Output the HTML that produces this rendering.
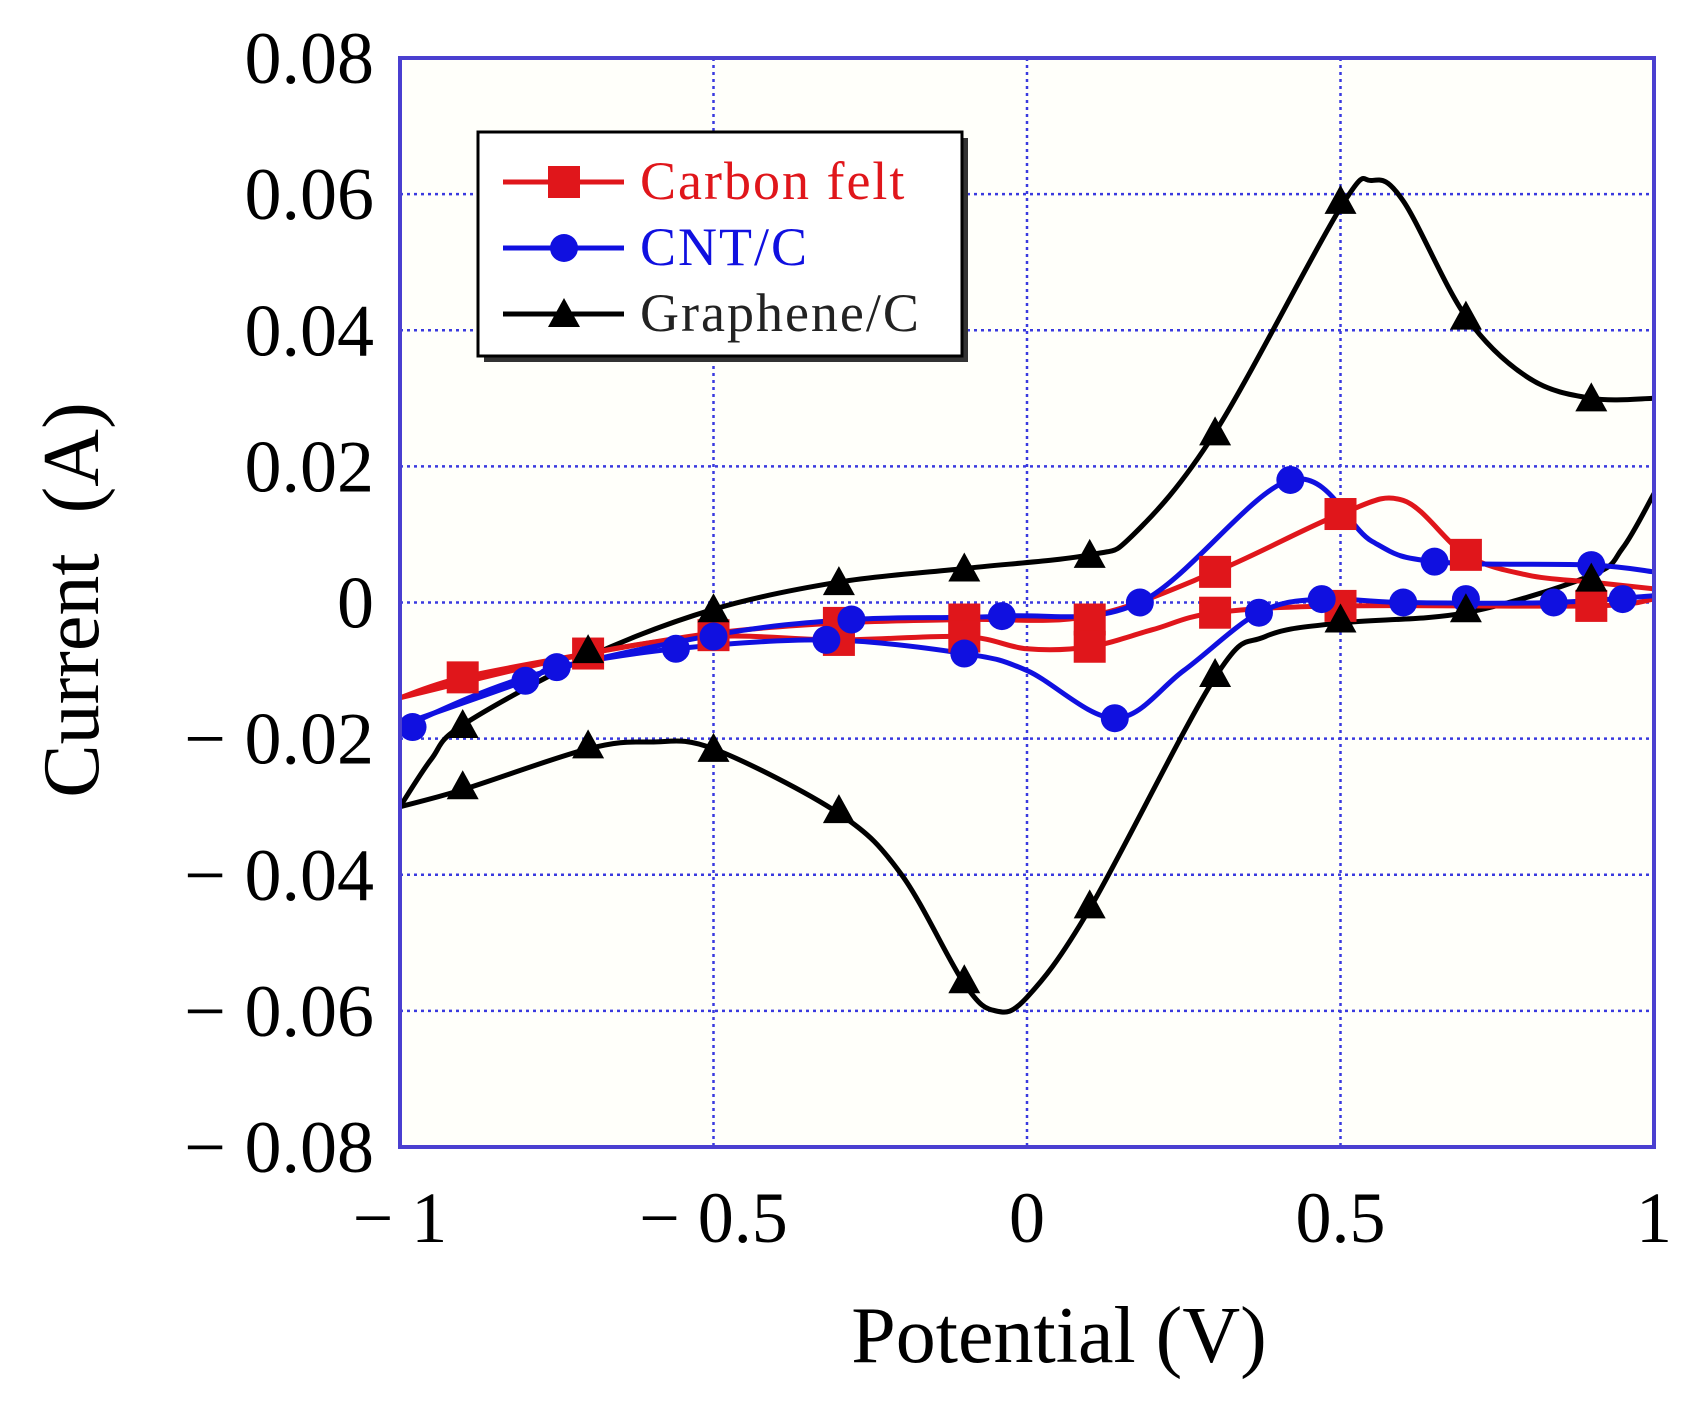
<!DOCTYPE html>
<html><head><meta charset="utf-8"><style>
body{margin:0;background:#fff;}
svg{display:block;font-family:"Liberation Serif",serif;}
</style></head><body>
<svg id="s" width="1694" height="1407" xmlns="http://www.w3.org/2000/svg"></svg>
<script>
const s=document.getElementById('s');
const L=400,R=1654,T=58,B=1147;
const X=v=>L+(v+1)*(R-L)/2, Y=c=>T+(0.08-c)*(B-T)/0.16;
let h='';
h+=`<rect x="${L}" y="${T}" width="${R-L}" height="${B-T}" fill="#fffffa"/>`;
for(let v=-0.5;v<1;v+=0.5){h+=`<line x1="${X(v)}" y1="${T}" x2="${X(v)}" y2="${B}" stroke="#3a3adf" stroke-width="2.5" stroke-dasharray="3,4"/>`;}
for(let i=1;i<8;i++){let c=0.08-i*0.02;h+=`<line x1="${L}" y1="${Y(c)}" x2="${R}" y2="${Y(c)}" stroke="#3a3adf" stroke-width="2.5" stroke-dasharray="3,4"/>`;}
function path(pts,col){let p=pts.map(q=>[X(q[0]),Y(q[1])]);let d=`M${p[0][0]},${p[0][1]}`;
for(let i=0;i<p.length-1;i++){let p0=p[Math.max(0,i-1)],p1=p[i],p2=p[i+1],p3=p[Math.min(p.length-1,i+2)];
d+=` C${p1[0]+(p2[0]-p0[0])/6},${p1[1]+(p2[1]-p0[1])/6} ${p2[0]-(p3[0]-p1[0])/6},${p2[1]-(p3[1]-p1[1])/6} ${p2[0]},${p2[1]}`;}
return `<path d="${d}" fill="none" stroke="${col}" stroke-width="5"/>`;}
function sq(x,y){return `<rect x="${x-16}" y="${y-16}" width="32" height="32" fill="#e0161b"/>`}
function ci(x,y){return `<circle cx="${x}" cy="${y}" r="14" fill="#1010e0"/>`}
function tr(x,y){return `<polygon points="${x},${y-16} ${x-16},${y+13} ${x+16},${y+13}" fill="#000"/>`}
const gU=[[-1,-0.030],[-0.95,-0.023],[-0.9,-0.018],[-0.7,-0.008],[-0.5,-0.001],[-0.3,0.003],[-0.1,0.005],[0.1,0.007],[0.17,0.010],[0.3,0.025],[0.5,0.058],[0.55,0.062],[0.6,0.059],[0.7,0.042],[0.8,0.033],[0.9,0.030],[1,0.030]];
const gD=[[1,0.016],[0.95,0.008],[0.9,0.004],[0.7,-0.0015],[0.5,-0.003],[0.38,-0.005],[0.3,-0.011],[0.1,-0.045],[0,-0.058],[-0.05,-0.060],[-0.1,-0.056],[-0.2,-0.040],[-0.3,-0.031],[-0.5,-0.0215],[-0.6,-0.0205],[-0.7,-0.0215],[-0.9,-0.0275],[-1,-0.030]];
const bU=[[-1,-0.0185],[-0.8,-0.011],[-0.5,-0.0048],[-0.28,-0.0025],[-0.04,-0.002],[0.18,0],[0.42,0.018],[0.55,0.009],[0.65,0.006],[0.9,0.0055],[1,0.0045]];
const bD=[[1,0.001],[0.84,0],[0.6,0],[0.47,0.0005],[0.37,-0.0015],[0.25,-0.01],[0.14,-0.017],[0,-0.010],[-0.1,-0.0075],[-0.32,-0.0055],[-0.56,-0.0068],[-0.75,-0.0095],[-0.8,-0.0115],[-1,-0.018]];
const rU=[[-1,-0.014],[-0.9,-0.011],[-0.7,-0.0075],[-0.5,-0.0045],[-0.3,-0.003],[-0.1,-0.0025],[0.1,-0.002],[0.3,0.0045],[0.5,0.013],[0.6,0.015],[0.7,0.007],[0.8,0.004],[0.9,0.003],[1,0.002]];
const rD=[[1,0.0005],[0.9,-0.0005],[0.5,-0.0005],[0.3,-0.0015],[0.2,-0.004],[0.1,-0.0065],[0,-0.0068],[-0.1,-0.005],[-0.3,-0.0055],[-0.5,-0.005],[-0.7,-0.0075],[-1,-0.014]];
h+=path(gU,'#000')+path(gD,'#000')+path(rU,'#e0161b')+path(rD,'#e0161b')+path(bU,'#1010e0')+path(bD,'#1010e0');
[[-0.9,-0.011],[-0.7,-0.0075],[-0.5,-0.0048],[-0.3,-0.0055],[-0.3,-0.003],[-0.1,-0.0025],[-0.1,-0.005],[0.1,-0.0025],[0.1,-0.0065],[0.3,0.0045],[0.3,-0.0015],[0.5,0.013],[0.5,-0.0005],[0.7,0.007],[0.9,-0.0005]].forEach(q=>h+=sq(X(q[0]),Y(q[1])));
[[-0.98,-0.0183],[-0.8,-0.0115],[-0.75,-0.0095],[-0.56,-0.0068],[-0.5,-0.005],[-0.32,-0.0055],[-0.28,-0.0025],[-0.1,-0.0075],[-0.04,-0.002],[0.14,-0.017],[0.18,0],[0.37,-0.0015],[0.42,0.018],[0.47,0.0005],[0.6,0],[0.65,0.006],[0.7,0.0005],[0.84,0],[0.9,0.0055],[0.95,0.0005]].forEach(q=>h+=ci(X(q[0]),Y(q[1])));
[[-0.9,-0.018],[-0.7,-0.007],[-0.5,-0.001],[-0.3,0.003],[-0.1,0.005],[0.1,0.007],[0.3,0.025],[0.5,0.059],[0.7,0.042],[0.9,0.030],[0.9,0.0035],[0.7,-0.001],[0.5,-0.0025],[0.3,-0.0105],[0.1,-0.0445],[-0.1,-0.0555],[-0.3,-0.0305],[-0.5,-0.0215],[-0.7,-0.021],[-0.9,-0.027]].forEach(q=>h+=tr(X(q[0]),Y(q[1])));
h+=`<rect x="${L}" y="${T}" width="${R-L}" height="${B-T}" fill="none" stroke="#4a3fd0" stroke-width="4"/>`;
h+=`<rect x="484" y="138" width="484" height="224" fill="#333"/><rect x="478" y="132" width="484" height="224" fill="#fff" stroke="#000" stroke-width="3"/>`;
const lg=[['Carbon felt','#e0161b',sq],['CNT/C','#1010e0',ci],['Graphene/C','#000',tr]];
lg.forEach((e,i)=>{let y=182+i*66;h+=`<line x1="503" y1="${y}" x2="624" y2="${y}" stroke="${e[1]}" stroke-width="5"/>`+e[2](564,y)+`<text x="640" y="${y+17}" font-size="54" letter-spacing="2" fill="${e[1]==='#000'?'#222':e[1]}">${e[0]}</text>`;});
const yl=['0.08','0.06','0.04','0.02','0','\u2212 0.02','\u2212 0.04','\u2212 0.06','\u2212 0.08'];
yl.forEach((t,i)=>{h+=`<text x="374" y="${T+i*(B-T)/8+25}" font-size="74" text-anchor="end">${t}</text>`;});
[['\u2212 1',-1],['\u2212 0.5',-0.5],['0',0],['0.5',0.5],['1',1]].forEach(q=>{h+=`<text x="${X(q[1])}" y="1242" font-size="72" text-anchor="middle">${q[0]}</text>`;});
h+=`<text x="1059" y="1362" font-size="80" text-anchor="middle">Potential (V)</text>`;
h+=`<text transform="translate(98,600) rotate(-90)" font-size="80" text-anchor="middle">Current&#160; (A)</text>`;
s.innerHTML=h;
</script>
</body></html>
